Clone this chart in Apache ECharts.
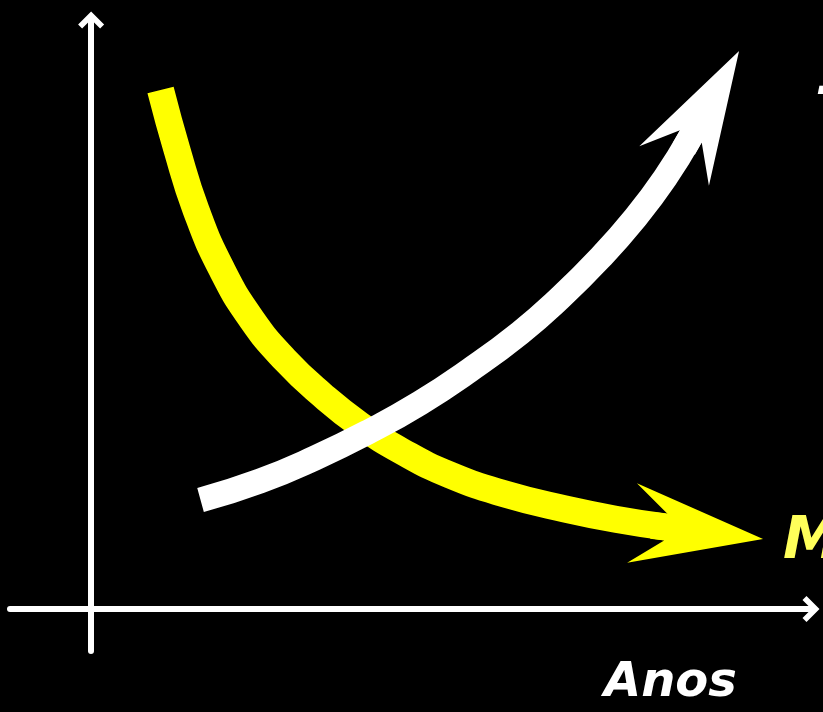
<!DOCTYPE html>
<html><head><meta charset="utf-8">
<script src="https://cdn.jsdelivr.net/npm/echarts/dist/echarts.min.js"></script>
<style>html,body{margin:0;padding:0;background:#000}#c{width:823px;height:712px}</style>
</head><body><div id="c"></div>
<script>
// Yellow (decreasing) curve — centre line
const yellowX = [0.856, 1.059, 1.293, 1.614, 1.984, 2.391, 2.847, 3.315, 3.845, 4.424, 5.102, 5.843, 6.521, 7.076];
const yellowY = [6.168, 5.455, 4.742, 4.029, 3.435, 2.960, 2.544, 2.187, 1.866, 1.592, 1.366, 1.188, 1.057, 0.974];
const yellowTip = [8.284, 0.831];
// White (increasing) curve — centre line
const whiteX = [1.349, 2.082, 2.760, 3.439, 4.055, 4.671, 5.288, 5.781, 6.274, 6.706, 7.076, 7.396];
const whiteY = [1.294, 1.520, 1.794, 2.115, 2.448, 2.840, 3.280, 3.696, 4.171, 4.646, 5.122, 5.621];
const whiteTip = [7.988, 6.631];
// Labels
const xAxisLabel = 'Anos';
const yellowLabel = 'Mortalidade';
const whiteLabel = 'Tecnologia';

const YELLOW = '#ffff00';
const WHITE = '#ffffff';

function pairs(xs, ys) { return xs.map((x, i) => [x, ys[i]]); }
function headRow(xs, ys, tip) { return [[tip[0], tip[1], xs[xs.length - 1], ys[ys.length - 1]]]; }

function arrowHead(color, shaftHalf) {
  return function (params, api) {
    const tip = api.coord([api.value(0), api.value(1)]);
    const base = api.coord([api.value(2), api.value(3)]);
    let dx = tip[0] - base[0], dy = tip[1] - base[1];
    const len = Math.hypot(dx, dy); dx /= len; dy /= len;
    const nx = -dy, ny = dx;
    const L = 132, W = 40, N = 98, w = shaftHalf, E = 14;
    const p = (a, b) => [tip[0] - a * dx + b * nx, tip[1] - a * dy + b * ny];
    const pts = [tip, p(L, W), p(N, w), p(N + E, w), p(N + E, -w), p(N, -w), p(L, -W)];
    return { type: 'polygon', shape: { points: pts }, style: { fill: color } };
  };
}

const chevron = 'path://M0,0 L13,13 L9,17 L0,8 L-9,17 L-13,13 Z';
const axisCommon = {
  type: 'value',
  axisLine: { show: true, onZero: true, symbol: ['none', chevron], symbolSize: [26, 26],
              lineStyle: { color: WHITE, width: 6 } },
  axisTick: { show: false }, axisLabel: { show: false }, splitLine: { show: false }
};

const chart = echarts.init(document.getElementById('c'), null, { renderer: 'canvas' });
chart.setOption({
  backgroundColor: '#000',
  animation: false,
  grid: { left: 10, right: 12, top: 20, bottom: 61 },
  xAxis: Object.assign({}, axisCommon, { min: -1, max: 8.875 }),
  yAxis: Object.assign({}, axisCommon, { min: -0.5, max: 7.0 }),
  series: [
    { type: 'line', data: pairs(yellowX, yellowY), smooth: 0.5, showSymbol: false, z: 2,
      lineStyle: { color: YELLOW, width: 27, cap: 'butt', join: 'round' } },
    { type: 'custom', data: headRow(yellowX, yellowY, yellowTip), renderItem: arrowHead(YELLOW, 13.5), z: 3,
      encode: { x: [0, 2], y: [1, 3] } },
    { type: 'line', data: pairs(whiteX, whiteY), smooth: 0.5, showSymbol: false, z: 4,
      lineStyle: { color: WHITE, width: 25, cap: 'butt', join: 'round' } },
    { type: 'custom', data: headRow(whiteX, whiteY, whiteTip), renderItem: arrowHead(WHITE, 12.5), z: 5,
      encode: { x: [0, 2], y: [1, 3] } }
  ],
  graphic: [
    { type: 'text', x: 604, y: 684, style: { text: xAxisLabel, fill: WHITE, font: 'italic bold 48px "DejaVu Sans"', verticalAlign: 'middle' } },
    { type: 'text', x: 783, y: 543, style: { text: yellowLabel, fill: '#ffff5a', font: 'italic bold 58px "DejaVu Sans"', verticalAlign: 'middle' } },
    { type: 'text', x: 815, y: 114, style: { text: whiteLabel, fill: WHITE, font: 'italic bold 58px "DejaVu Sans"', verticalAlign: 'middle' } }
  ]
});
</script>
</body></html>
